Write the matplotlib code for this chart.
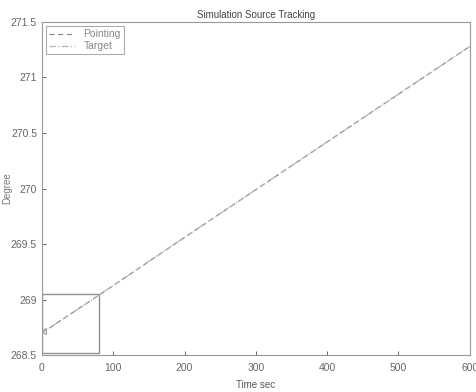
import matplotlib
matplotlib.use("Agg")
import matplotlib.pyplot as plt
from matplotlib.patches import Rectangle

# Tracking data (time in seconds, angle in degrees)
time_sec = [0, 80, 200, 300, 400, 500, 600]
pointing_deg = [268.70, 269.04, 269.56, 269.99, 270.42, 270.85, 271.28]
target_deg = [268.70, 269.04, 269.56, 269.99, 270.42, 270.85, 271.28]

x_ticks = [0, 100, 200, 300, 400, 500, 600]
y_ticks = [268.5, 269, 269.5, 270, 270.5, 271, 271.5]
y_tick_labels = ["268.5", "269", "269.5", "270", "270.5", "271", "271.5"]

# Zoom region outlined near the start of the run
zoom_x = [0, 80]
zoom_y = [268.52, 269.05]

plt.rcParams['font.family'] = ['Liberation Sans', 'DejaVu Sans']

fig = plt.figure(figsize=(4.76, 3.92), dpi=100)
ax = fig.add_axes([0.088, 0.094, 0.899, 0.850])

ax.plot(time_sec, pointing_deg, color="#8a8a8a", lw=0.9, ls=(0, (4, 3)), label="Pointing")
ax.plot(time_sec, target_deg, color="#b5b5b5", lw=0.9, ls=(0, (5, 2, 1, 2)), label="Target")
ax.plot([2], [268.72], marker="<", ms=4, color="#a0a0a0", mfc="none", mew=0.8)

ax.add_patch(Rectangle((zoom_x[0], zoom_y[0]), zoom_x[1] - zoom_x[0], zoom_y[1] - zoom_y[0],
                       fill=False, ec="#909090", lw=1.0))

ax.set_xlim(0, 600)
ax.set_ylim(268.5, 271.5)
ax.set_xticks(x_ticks)
ax.set_yticks(y_ticks)
ax.set_yticklabels(y_tick_labels)
ax.tick_params(direction="in", length=3, labelsize=7.5, colors="#666666", width=0.7)
ax.tick_params(axis="x", pad=6)
for s in ax.spines.values():
    s.set_color("#999999")
    s.set_linewidth(0.8)

ax.set_title("Simulation Source Tracking", fontsize=7, color="#444444", pad=3)
ax.set_xlabel("Time sec", fontsize=7, color="#555555")
ax.xaxis.set_label_coords(0.5, -0.075)
ax.set_ylabel("Degree", fontsize=7, color="#777777")
ax.yaxis.set_label_coords(-0.07, 0.5)

leg = ax.legend(loc="upper left", fontsize=7.5, frameon=True, fancybox=False,
                handlelength=2.5, borderpad=0.3, labelspacing=0.2,
                borderaxespad=0.4)
leg.get_frame().set_edgecolor("#999999")
leg.get_frame().set_linewidth(0.8)
for t in leg.get_texts():
    t.set_color("#888888")

fig.savefig("out.png", dpi=100)
